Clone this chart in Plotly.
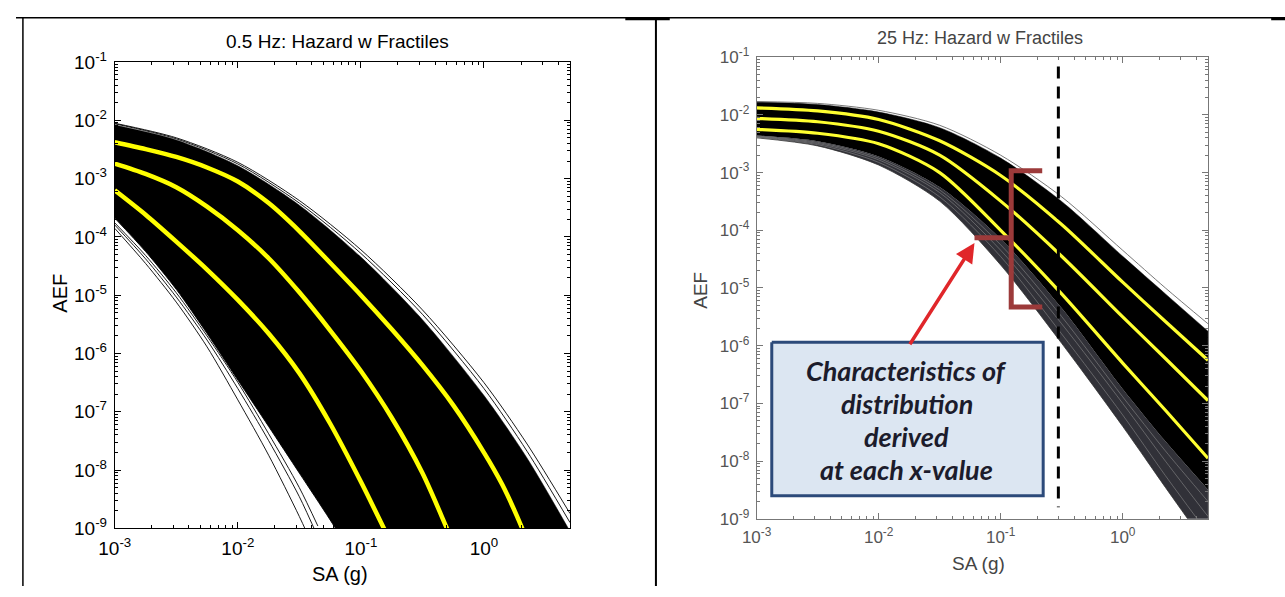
import numpy as np
import plotly.graph_objects as go

# ---------------- LEFT PANEL: 0.5 Hz ----------------
# fractile curves (yellow)
L_SA_F1 = [0.001, 0.00178, 0.00316, 0.00562, 0.01, 0.0178, 0.0316, 0.0562, 0.1, 0.178, 0.316, 0.562, 1.0, 1.41, 2.0, 2.82]
L_AEF_F1 = [4.2e-3, 3.2e-3, 2.35e-3, 1.55e-3, 8.9e-4, 3.8e-4, 1.26e-4, 3.6e-5, 1.0e-5, 2.6e-6, 6.3e-7, 1.3e-7, 2.0e-8, 5.6e-9, 1.12e-9, 1.8e-10]
L_SA_F2 = [0.001, 0.00178, 0.00316, 0.00562, 0.01, 0.0178, 0.0316, 0.0562, 0.1, 0.178, 0.316, 0.5, 0.631]
L_AEF_F2 = [1.8e-3, 1.2e-3, 7.1e-4, 3.3e-4, 1.3e-4, 4.3e-5, 1.12e-5, 2.5e-6, 5.0e-7, 7.9e-8, 8.9e-9, 1.0e-9, 3.2e-10]
L_SA_F3 = [0.001, 0.00178, 0.00316, 0.00562, 0.01, 0.0178, 0.0316, 0.0562, 0.1, 0.158, 0.2]
L_AEF_F3 = [6.3e-4, 2.4e-4, 8.3e-5, 2.75e-5, 8.3e-6, 2.2e-6, 4.6e-7, 6.3e-8, 6.3e-9, 8.9e-10, 3.2e-10]
# bundle envelope (upper side)
L_SA_UP = [0.001, 0.00316, 0.01, 0.0316, 0.1, 0.316, 1.0, 2.24, 5.0]
L_AEF_UP_OUT1 = [8.9e-3, 5.0e-3, 1.9e-3, 4.2e-4, 6.0e-5, 5.6e-6, 3.16e-7, 2.8e-8, 1.8e-9]
L_AEF_UP_OUT2 = [8.7e-3, 4.8e-3, 1.78e-3, 3.8e-4, 5.2e-5, 4.7e-6, 2.5e-7, 2.1e-8, 1.26e-9]
L_AEF_UP_DENSE = [8.3e-3, 4.6e-3, 1.66e-3, 3.5e-4, 4.5e-5, 3.8e-6, 1.9e-7, 1.6e-8, 8.9e-10]
# bundle envelope (lower side)
L_SA_LO = [0.001, 0.00178, 0.00316, 0.00562, 0.01, 0.0178, 0.0316, 0.0562, 0.1]
L_AEF_LO_DENSE = [2.1e-4, 5.6e-5, 1.26e-5, 2.2e-6, 3.5e-7, 5.6e-8, 8.9e-9, 1.4e-9, 2.0e-10]
L_SA_THIN = [0.001, 0.00178, 0.00316, 0.00562, 0.01, 0.0178, 0.0316, 0.0447]
L_AEF_THIN1 = [1.4e-4, 3.5e-5, 7.6e-6, 1.3e-6, 1.6e-7, 1.8e-8, 1.6e-9, 3.2e-10]
L_AEF_THIN2 = [1.6e-4, 4.2e-5, 9.3e-6, 1.7e-6, 2.5e-7, 3.2e-8, 3.5e-9, 7.1e-10]
L_AEF_THIN3 = [1.74e-4, 4.8e-5, 1.1e-5, 2.0e-6, 3.2e-7, 4.2e-8, 5.0e-9, 1.1e-9]

# ---------------- RIGHT PANEL: 25 Hz ----------------
R_SA = [0.001, 0.00316, 0.01, 0.0316, 0.1, 0.316, 1.0, 2.24, 5.0]
R_AEF_F1 = [1.32e-2, 1.17e-2, 8.3e-3, 3.55e-3, 8.9e-4, 1.26e-4, 1.26e-5, 2.63e-6, 5.6e-7]
R_AEF_F2 = [8.7e-3, 7.6e-3, 5.2e-3, 2.0e-3, 3.2e-4, 3.55e-5, 3.16e-6, 6.0e-7, 1.12e-7]
R_AEF_F3 = [5.6e-3, 4.8e-3, 3.16e-3, 1.0e-3, 1.0e-4, 7.9e-6, 5.0e-7, 7.6e-8, 1.12e-8]
R_AEF_UP_DENSE = [1.66e-2, 1.51e-2, 1.12e-2, 6.0e-3, 1.78e-3, 3.16e-4, 3.55e-5, 7.9e-6, 1.78e-6]
R_AEF_UP_OUT = [1.7e-2, 1.58e-2, 1.2e-2, 6.6e-3, 2.0e-3, 3.8e-4, 4.5e-5, 1.0e-5, 2.4e-6]
R_AEF_LO_DENSE = [4.4e-3, 3.5e-3, 1.9e-3, 5.6e-4, 7.1e-5, 4.5e-6, 1.78e-7, 2.2e-8, 3.2e-9]
R_AEF_LO_G1 = [4.0e-3, 2.9e-3, 1.35e-3, 3.2e-4, 2.5e-5, 1.1e-6, 4.0e-8, 3.5e-9, 3.2e-10]
R_AEF_LO_G2 = [4.1e-3, 3.05e-3, 1.5e-3, 3.8e-4, 3.5e-5, 1.6e-6, 6.3e-8, 5.6e-9, 5.6e-10]
R_AEF_LO_G3 = [4.2e-3, 3.2e-3, 1.66e-3, 4.5e-4, 4.5e-5, 2.4e-6, 1.0e-7, 1.0e-8, 1.1e-9]
R_AEF_LO_G4 = [4.3e-3, 3.35e-3, 1.78e-3, 5.0e-4, 5.6e-5, 3.2e-6, 1.3e-7, 1.5e-8, 2.0e-9]

# annotation geometry (right panel, data units)
DASH_SA = [0.297, 0.297]
DASH_AEF = [6.9e-2, 1.58e-9]
BRACKET_SA = [0.219, 0.122, 0.122, 0.219]
BRACKET_AEF = [1.07e-3, 1.07e-3, 4.7e-6, 4.7e-6]
ARM_SA = [0.061, 0.122]
ARM_AEF = [7.4e-5, 7.4e-5]
ARROW_TIP = (0.061, 6.0e-5)
ARROW_TAIL = (0.0177, 1.0e-6)
BOX_SA = [1.33e-3, 0.223, 0.223, 1.33e-3, 1.33e-3]
BOX_AEF = [1.15e-6, 1.15e-6, 2.5e-9, 2.5e-9, 1.15e-6]
BOX_LINES = ["Characteristics of", "distribution", "derived", "at each x-value"]

TITLES = ["0.5 Hz: Hazard w Fractiles", "25 Hz: Hazard w Fractiles"]
X_TICKS = [1e-3, 1e-2, 1e-1, 1]
X_TICKTEXT = ["10<sup>-3</sup>", "10<sup>-2</sup>", "10<sup>-1</sup>", "10<sup>0</sup>"]
Y_TICKS = [1e-9, 1e-8, 1e-7, 1e-6, 1e-5, 1e-4, 1e-3, 1e-2, 1e-1]
Y_TICKTEXT = ["10<sup>-%d</sup>" % k for k in range(9, 0, -1)]

W, H = 1285, 597
FONT = "Liberation Sans, Arial, sans-serif"

fig = go.Figure()


def line(sa, aef, ax, color="black", width=1.0, fill=None, fillcolor=None, dash=None, shape="spline"):
    fig.add_trace(go.Scatter(
        x=sa, y=aef, mode="lines", xaxis=ax[0], yaxis=ax[1],
        line=dict(color=color, width=width, shape=shape, smoothing=0.8, dash=dash),
        fill=fill, fillcolor=fillcolor, hoverinfo="skip", showlegend=False))


LA = ("x", "y")
RA = ("x2", "y2")

# left bundle
line(L_SA_LO, L_AEF_LO_DENSE, LA, width=0)
line(L_SA_UP, L_AEF_UP_DENSE, LA, width=0.5, fill="tonexty", fillcolor="black")
for a in (L_AEF_UP_OUT1, L_AEF_UP_OUT2):
    line(L_SA_UP, a, LA, width=0.9)
for a in (L_AEF_THIN1, L_AEF_THIN2, L_AEF_THIN3):
    line(L_SA_THIN, a, LA, width=0.9)
line(L_SA_LO, L_AEF_LO_DENSE, LA, width=0.9)
line(L_SA_F1, L_AEF_F1, LA, color="#ffff00", width=4.5)
line(L_SA_F2, L_AEF_F2, LA, color="#ffff00", width=4.5)
line(L_SA_F3, L_AEF_F3, LA, color="#ffff00", width=4.5)

# right bundle
line(R_SA, R_AEF_LO_G1, RA, color="#333", width=0.8)
line(R_SA, R_AEF_LO_DENSE, RA, width=0, fill="tonexty", fillcolor="rgba(20,20,28,0.88)")
line(R_SA, R_AEF_LO_DENSE, RA, width=0)
line(R_SA, R_AEF_UP_DENSE, RA, width=0.5, fill="tonexty", fillcolor="black")
line(R_SA, R_AEF_UP_OUT, RA, color="#555", width=0.8)
for a in (R_AEF_LO_G2, R_AEF_LO_G3, R_AEF_LO_G4):
    line(R_SA, a, RA, color="#8a8a8a", width=0.6)
for a in (R_AEF_F1, R_AEF_F2, R_AEF_F3):
    line(R_SA, a, RA, color="#ffff30", width=3.2)

# right annotations drawn as traces
line(DASH_SA, DASH_AEF, RA, color="black", width=3, dash="12px,8px", shape="linear")
line(BRACKET_SA, BRACKET_AEF, RA, color="#9c3a3a", width=5, shape="linear")
line(ARM_SA, ARM_AEF, RA, color="#9c3a3a", width=5, shape="linear")
fig.add_trace(go.Scatter(x=BOX_SA, y=BOX_AEF, mode="lines", xaxis="x2", yaxis="y2",
                         fill="toself", fillcolor="#dce6f2",
                         line=dict(color="#2c4a7a", width=3), hoverinfo="skip", showlegend=False))

minor_vals = [m * 10.0 ** e for e in range(-10, 1) for m in range(2, 10)]


def axis_style(domain, is_x, rng, color, fcolor, fsize, anchor):
    return dict(type="log", domain=domain, range=rng, anchor=anchor,
                showline=True, linecolor=color, linewidth=1, mirror="allticks",
                ticks="inside", ticklen=6, tickcolor=color, tickwidth=1,
                showgrid=False, zeroline=False, tickmode="array",
                tickvals=X_TICKS if is_x else Y_TICKS,
                ticktext=X_TICKTEXT if is_x else Y_TICKTEXT,
                tickfont=dict(family=FONT, size=fsize, color=fcolor),
                ticklabelstandoff=3,
                minor=dict(tickmode="array", tickvals=minor_vals, ticks="inside",
                           ticklen=3, tickcolor=color, showgrid=False))


XR = [-3, np.log10(5)]
YR = [-9, -1]
fig.update_layout(
    width=W, height=H, margin=dict(l=0, r=0, t=0, b=0),
    paper_bgcolor="white", plot_bgcolor="white",
    xaxis=axis_style([100 / W, 561 / W], True, XR, "black", "black", 19, "y"),
    yaxis=axis_style([1 - 537 / H, 1 - 51 / H], False, YR, "black", "black", 19, "x"),
    xaxis2=axis_style([750 / W, 1207 / W], True, XR, "#777", "#555", 17, "y2"),
    yaxis2=axis_style([1 - 527 / H, 1 - 46 / H], False, YR, "#777", "#555", 17, "x2"),
)

ann = []


def txt(x, y, s, size=19, color="black", angle=0, family=FONT):
    ann.append(dict(x=x / W, y=1 - y / H, xref="paper", yref="paper", text=s,
                    showarrow=False, textangle=angle, xanchor="center", yanchor="middle",
                    font=dict(family=family, size=size, color=color)))


txt(326, 30, TITLES[0])
txt(976, 26, TITLES[1], color="#444", size=18)
txt(328, 585, "SA (g)", size=20)
txt(975, 574, "SA (g)", color="#444")
txt(45, 292, "AEF", angle=-90, size=20)
txt(693, 289, "AEF", angle=-90, color="#444")
for i, s in enumerate(BOX_LINES):
    txt(902, 372 + 34.5 * i, "<b><i>%s</i></b>" % s, size=27, color="#1c1c2c",
        family="Lato, Open Sans, sans-serif")

# red arrow
ann.append(dict(x=np.log10(ARROW_TIP[0]), y=np.log10(ARROW_TIP[1]), xref="x2", yref="y2",
                ax=np.log10(ARROW_TAIL[0]), ay=np.log10(ARROW_TAIL[1]), axref="x2", ayref="y2",
                text="", showarrow=True, arrowhead=2, arrowsize=1.1, arrowwidth=3.5,
                arrowcolor="#e0262a"))
fig.update_layout(annotations=ann)

# table borders
shapes = [
    dict(type="line", xref="paper", yref="paper", x0=0, x1=1, y0=1 - 5 / H, y1=1 - 5 / H,
         line=dict(color="black", width=1.5)),
    dict(type="line", xref="paper", yref="paper", x0=617 / W, x1=662 / W, y0=1 - 6 / H, y1=1 - 6 / H,
         line=dict(color="black", width=3)),
    dict(type="line", xref="paper", yref="paper", x0=1271 / W, x1=1, y0=1 - 6 / H, y1=1 - 6 / H,
         line=dict(color="black", width=3)),
    dict(type="line", xref="paper", yref="paper", x0=7 / W, x1=7 / W, y0=0, y1=1 - 5 / H,
         line=dict(color="black", width=1.5)),
    dict(type="line", xref="paper", yref="paper", x0=648 / W, x1=648 / W, y0=0, y1=1 - 5 / H,
         line=dict(color="black", width=2)),
]
fig.update_layout(shapes=shapes)

fig.write_html("out.html", config={"displayModeBar": False},
               post_script="document.body.style.margin='0px';document.body.style.overflow='hidden';")
